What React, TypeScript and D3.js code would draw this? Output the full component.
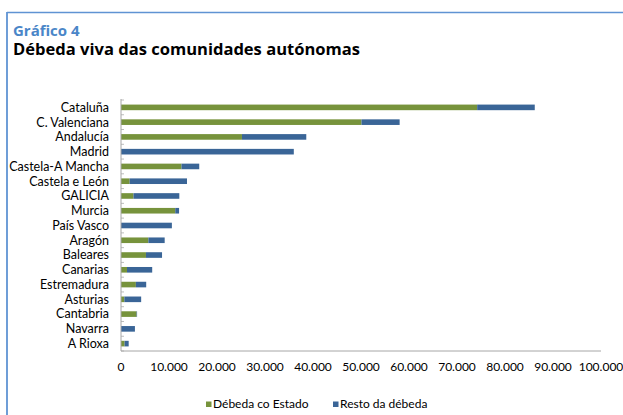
import React from "react";
import * as d3 from "d3";

const categories = ["Cataluña","C. Valenciana","Andalucía","Madrid","Castela-A Mancha","Castela e León","GALICIA","Murcia","País Vasco","Aragón","Baleares","Canarias","Estremadura","Asturias","Cantabria","Navarra","A Rioxa"];
const debedaEstado = [74200, 50100, 25200, 0, 12600, 1800, 2600, 11300, 0, 5700, 5200, 1250, 3100, 700, 3250, 0, 750];
const restoDebeda = [12000, 7950, 13400, 36000, 3700, 11950, 9550, 800, 10600, 3400, 3350, 5250, 2150, 3500, 100, 2900, 850];
const xTicks = [0, 10000, 20000, 30000, 40000, 50000, 60000, 70000, 80000, 90000, 100000];
const seriesNames = ["Débeda co Estado", "Resto da débeda"];
const seriesColors = ["#77933C", "#3A6597"];

const W = 623, H = 415;
const FONT = "Lato, 'Open Sans', sans-serif";
const TFONT = "'Open Sans', Lato, sans-serif";

export default function App() {
  const x = d3.scaleLinear().domain([0, 100000]).range([121, 601]);
  const y = d3.scaleBand<string>().domain(categories).range([100, 351]).paddingInner(0.62).paddingOuter(0.31);
  const fmt = (v: number) => v === 0 ? "0" : d3.format(",")(v).replace(/,/g, ".");
  const step = y.step();
  return (
    <svg width={W} height={H} style={{ position: "absolute", left: 0, top: 0, background: "#fff" }}>
      <line x1={7} y1={12.5} x2={W} y2={12.5} stroke="#5F93D3" strokeWidth={1.6} />
      <line x1={7} y1={12} x2={7} y2={H} stroke="#5F93D3" strokeWidth={1.8} />
      <text x={13} y={36} fontFamily={TFONT} fontWeight={700} fontSize={15} fill="#4A86C8">Gráfico 4</text>
      <text x={13} y={55} fontFamily={TFONT} fontWeight={700} fontSize={15.5} fill="#000" textLength={347} lengthAdjust="spacingAndGlyphs">Débeda viva das comunidades autónomas</text>
      {categories.map((c, i) => {
        const yy = y(c)!;
        const bh = y.bandwidth();
        return (
          <g key={c}>
            <rect x={x(0)} y={yy} width={x(debedaEstado[i]) - x(0)} height={bh} fill={seriesColors[0]} />
            <rect x={x(debedaEstado[i])} y={yy} width={x(debedaEstado[i] + restoDebeda[i]) - x(debedaEstado[i])} height={bh} fill={seriesColors[1]} />
            <text x={109} y={yy + bh / 2} dy="0.35em" textAnchor="end" fontFamily={FONT} fontSize={12.5} fill="#000">{c}</text>
          </g>
        );
      })}
      {d3.range(categories.length + 1).map((i) => (
        <line key={"t" + i} x1={121} x2={124} y1={100 + i * step} y2={100 + i * step} stroke="#BDBDBD" strokeWidth={1} />
      ))}
      <line x1={121} x2={121} y1={99} y2={351} stroke="#A6A6A6" strokeWidth={1} />
      <line x1={121} x2={601} y1={351} y2={351} stroke="#A6A6A6" strokeWidth={1} />
      {xTicks.map((t) => (
        <text key={t} x={x(t)} y={371} textAnchor="middle" fontFamily={FONT} fontSize={12} fill="#000">{fmt(t)}</text>
      ))}
      {seriesNames.map((s, i) => {
        const lx = i === 0 ? 206 : 333;
        return (
          <g key={s}>
            <rect x={lx} y={401.5} width={5.5} height={5.5} fill={seriesColors[i]} />
            <text x={lx + 7} y={407.5} fontFamily={FONT} fontSize={12} fill="#000">{s}</text>
          </g>
        );
      })}
    </svg>
  );
}
